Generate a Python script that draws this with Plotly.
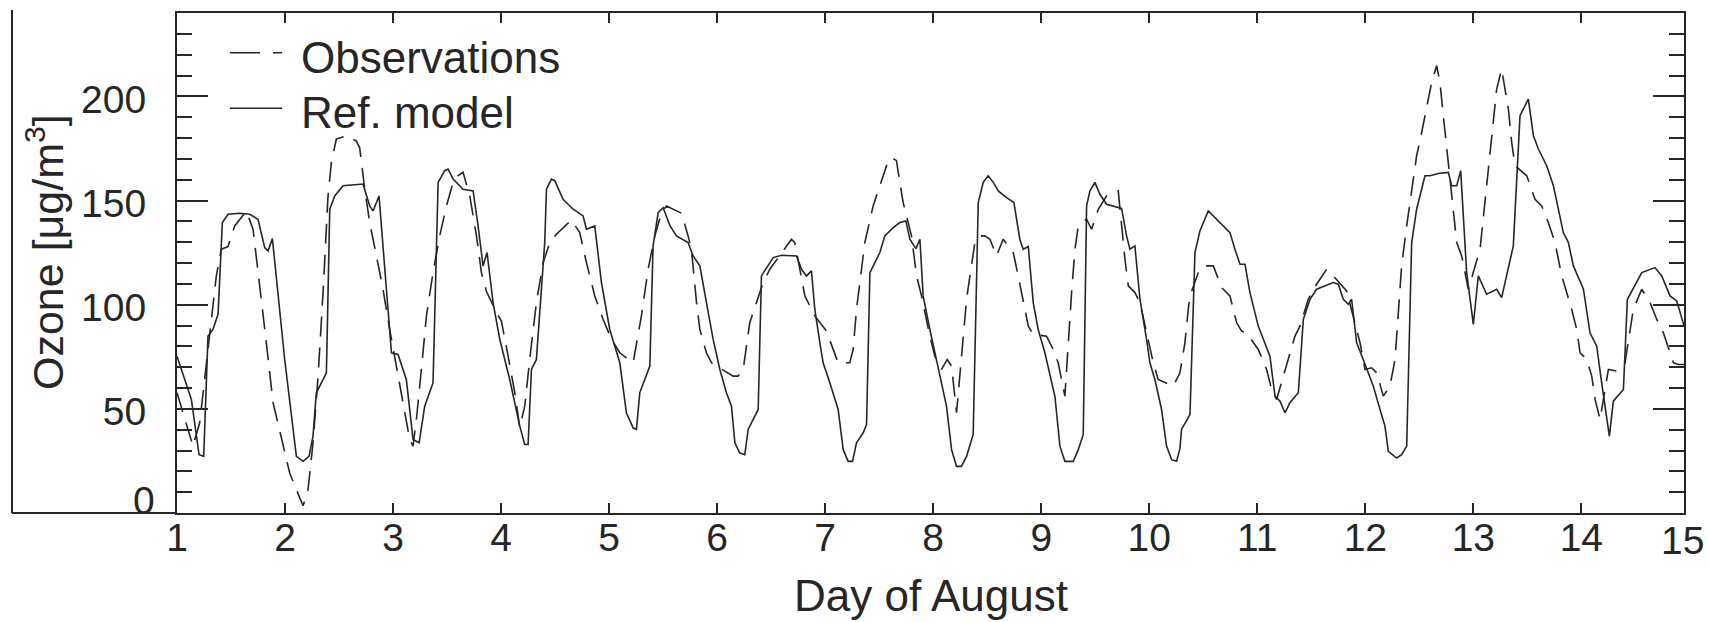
import plotly.graph_objects as go

# Ozone, 1-15 August: observations (dashed) and reference model (solid)
obs_day = [1.000, 1.148, 1.210, 1.287, 1.364, 1.410, 1.472, 1.534, 1.642, 1.704, 1.765, 1.827, 1.889, 1.966,
           2.043, 2.105, 2.167, 2.213, 2.259, 2.306, 2.352, 2.398, 2.429, 2.475, 2.568, 2.660, 2.691, 2.738,
           2.784, 2.846, 2.907, 2.969, 3.031, 3.093, 3.154, 3.185, 3.216, 3.262, 3.309, 3.370, 3.432, 3.494,
           3.556, 3.602, 3.648, 3.710, 3.772, 3.818, 3.864, 3.957, 4.003, 4.065, 4.127, 4.173, 4.219, 4.265,
           4.327, 4.389, 4.451, 4.512, 4.590, 4.651, 4.728, 4.790, 4.867, 4.944, 5.022, 5.099, 5.160, 5.222,
           5.299, 5.361, 5.423, 5.485, 5.531, 5.593, 5.670, 5.731, 5.762, 5.809, 5.840, 5.901, 5.948, 5.994,
           6.148, 6.194, 6.241, 6.302, 6.364, 6.426, 6.488, 6.580, 6.688, 6.719, 6.765, 6.812, 6.904, 7.012,
           7.120, 7.228, 7.259, 7.290, 7.321, 7.367, 7.444, 7.506, 7.568, 7.614, 7.660, 7.691, 7.722, 7.799,
           7.846, 7.892, 7.969, 8.015, 8.077, 8.130, 8.170, 8.216, 8.247, 8.278, 8.309, 8.340, 8.386, 8.432,
           8.478, 8.525, 8.586, 8.648, 8.741, 8.787, 8.833, 8.880, 8.926, 9.049, 9.111, 9.157, 9.219, 9.250,
           9.281, 9.312, 9.343, 9.420, 9.466, 9.528, 9.605, 9.713, 9.744, 9.775, 9.806, 9.867, 9.914, 9.960,
           10.037, 10.083, 10.222, 10.284, 10.330, 10.361, 10.377, 10.454, 10.500, 10.593, 10.670, 10.747,
           10.809, 10.855, 10.901, 11.009, 11.086, 11.133, 11.179, 11.241, 11.302, 11.349, 11.395, 11.472,
           11.549, 11.642, 11.704, 11.827, 11.951, 11.997, 12.059, 12.105, 12.167, 12.228, 12.275, 12.306,
           12.336, 12.383, 12.429, 12.475, 12.522, 12.568, 12.614, 12.660, 12.691, 12.722, 12.753, 12.784,
           12.815, 12.846, 12.892, 12.923, 12.954, 13.062, 13.093, 13.123, 13.154, 13.185, 13.216, 13.262,
           13.293, 13.324, 13.355, 13.386, 13.494, 13.571, 13.633, 13.694, 13.756, 13.818, 13.864, 13.910,
           13.957, 13.988, 14.049, 14.096, 14.127, 14.173, 14.250, 14.327, 14.404, 14.435, 14.481, 14.559,
           14.636, 14.698, 14.759, 14.790, 14.852, 14.898, 14.951]
obs_ozone = [57.7, 32.1, 43.3, 78.5, 113.8, 126.6, 127.9, 137.8, 145.0, 136.2, 110.6, 81.7, 53.0, 35.3,
             19.2, 11.2, 3.5, 11.2, 33.7, 65.7, 105.8, 152.2, 168.3, 179.5, 181.1, 178.5, 175.3, 155.4,
             139.4, 123.4, 107.4, 88.1, 70.5, 52.9, 35.3, 32.1, 44.9, 68.9, 94.6, 115.4, 133.0, 147.4,
             158.7, 161.9, 163.5, 152.2, 133.0, 115.4, 106.4, 96.2, 92.1, 75.3, 57.7, 41.0, 51.3, 73.7,
             101.0, 120.2, 129.8, 133.8, 137.8, 140.7, 134.6, 120.2, 104.2, 93.0, 83.3, 76.9, 74.5, 72.1,
             94.6, 117.0, 133.0, 144.2, 147.4, 145.8, 143.9, 133.0, 126.6, 101.0, 88.1, 76.9, 72.1, 70.5,
             65.7, 65.7, 68.9, 91.3, 101.0, 110.6, 117.0, 123.4, 131.4, 129.8, 116.8, 104.2, 94.6, 87.3,
             72.1, 72.1, 78.5, 97.8, 110.6, 129.8, 147.4, 157.1, 166.7, 170.7, 169.1, 158.7, 149.0, 133.0,
             113.8, 104.2, 84.9, 75.3, 68.9, 73.7, 70.5, 48.1, 65.7, 81.7, 102.6, 113.8, 129.8, 133.0,
             133.0, 131.4, 123.4, 131.4, 125.0, 113.8, 101.0, 89.7, 85.7, 84.9, 78.5, 72.1, 56.1, 81.7,
             105.8, 126.6, 137.8, 141.0, 136.2, 145.8, 152.2, 154.6, 137.8, 121.8, 109.0, 105.8, 101.0, 89.7,
             72.1, 64.1, 60.9, 67.3, 81.7, 97.8, 104.2, 115.4, 118.6, 118.6, 108.2, 104.2,
             91.3, 87.3, 86.5, 78.5, 68.9, 59.3, 54.5, 65.7, 76.9, 84.9, 89.7, 102.6,
             109.8, 117.0, 113.8, 106.6, 81.7, 68.9, 69.7, 67.3, 56.1, 60.9, 73.7, 97.8,
             118.6, 137.8, 155.4, 171.5, 182.7, 195.5, 206.7, 214.7, 206.7, 190.7, 174.7, 158.7,
             142.6, 129.8, 123.4, 115.4, 107.4, 126.6, 142.6, 158.7, 174.7, 190.7, 203.5, 213.1,
             203.5, 193.9, 177.9, 166.7, 161.9, 150.6, 147.4, 139.4, 129.8, 113.8, 105.8, 97.8,
             88.1, 76.9, 73.7, 65.7, 54.5, 44.9, 68.9, 68.1, 72.1, 81.7, 97.8, 107.4,
             101.0, 92.9, 86.5, 81.7, 72.1, 71.3, 71.3]

model_day = [1.000, 1.133, 1.204, 1.247, 1.287, 1.333, 1.380, 1.420, 1.472, 1.580, 1.673, 1.750, 1.812, 1.843,
             1.883, 1.997, 2.105, 2.167, 2.222, 2.259, 2.290, 2.352, 2.383, 2.414, 2.460, 2.537, 2.722, 2.784,
             2.815, 2.870, 2.985, 3.046, 3.123, 3.185, 3.241, 3.293, 3.370, 3.417, 3.478, 3.509, 3.556, 3.648,
             3.741, 3.787, 3.833, 3.870, 3.926, 3.988, 4.080, 4.173, 4.219, 4.250, 4.281, 4.327, 4.404, 4.420,
             4.466, 4.497, 4.574, 4.667, 4.759, 4.790, 4.867, 4.929, 5.006, 5.099, 5.160, 5.222, 5.253, 5.284,
             5.377, 5.407, 5.454, 5.500, 5.562, 5.623, 5.731, 5.778, 5.840, 5.901, 5.963, 6.025, 6.086, 6.133,
             6.164, 6.210, 6.256, 6.287, 6.333, 6.380, 6.410, 6.457, 6.519, 6.596, 6.735, 6.781, 6.827, 6.873,
             6.904, 6.951, 6.981, 7.043, 7.120, 7.167, 7.213, 7.253, 7.290, 7.352, 7.383, 7.414, 7.460, 7.506,
             7.552, 7.630, 7.691, 7.747, 7.784, 7.840, 7.877, 7.907, 7.969, 8.031, 8.123, 8.170, 8.216, 8.262,
             8.309, 8.370, 8.417, 8.463, 8.509, 8.556, 8.602, 8.679, 8.747, 8.802, 8.833, 8.880, 8.926, 8.972,
             9.034, 9.127, 9.173, 9.219, 9.296, 9.343, 9.389, 9.420, 9.451, 9.497, 9.543, 9.605, 9.744, 9.790,
             9.821, 9.867, 9.914, 9.975, 10.006, 10.052, 10.114, 10.160, 10.207, 10.253, 10.284, 10.299,
             10.377, 10.423, 10.469, 10.546, 10.623, 10.747, 10.793, 10.840, 10.886, 10.932, 11.009, 11.117,
             11.164, 11.210, 11.256, 11.302, 11.380, 11.426, 11.488, 11.549, 11.704, 11.750, 11.796, 11.843,
             11.873, 11.920, 11.981, 12.074, 12.136, 12.182, 12.213, 12.290, 12.336, 12.383, 12.429, 12.475,
             12.552, 12.599, 12.676, 12.769, 12.799, 12.846, 12.883, 12.938, 13.000, 13.046, 13.123, 13.216,
             13.262, 13.370, 13.432, 13.509, 13.556, 13.602, 13.679, 13.741, 13.833, 13.880, 13.926, 14.019,
             14.080, 14.142, 14.188, 14.259, 14.296, 14.389, 14.426, 14.481, 14.559, 14.682, 14.744, 14.821,
             14.883, 14.951]
model_ozone = [75.3, 54.5, 28.0, 27.2, 84.9, 88.1, 95.4, 139.4, 143.4, 143.9, 143.4, 141.0, 127.4, 125.8,
               131.7, 73.7, 27.2, 24.8, 27.2, 36.9, 57.7, 64.1, 67.3, 145.8, 152.2, 157.1, 157.9, 147.4,
               145.0, 152.2, 76.9, 76.1, 64.1, 35.3, 33.7, 51.3, 62.5, 158.7, 164.3, 165.1, 160.3, 155.4,
               154.6, 137.8, 118.6, 125.0, 101.0, 83.3, 64.1, 41.7, 32.9, 32.9, 68.9, 73.7, 129.8, 155.4,
               160.3, 159.5, 150.6, 145.8, 142.6, 136.2, 137.8, 110.6, 88.1, 72.1, 48.1, 40.9, 40.1, 57.7,
               70.5, 128.2, 144.2, 146.5, 138.0, 133.0, 129.8, 123.4, 118.6, 101.0, 83.3, 68.9, 57.7, 51.3,
               33.7, 28.8, 28.0, 40.1, 44.9, 49.7, 113.8, 117.8, 122.6, 123.7, 123.4, 117.0, 113.8, 116.2,
               97.8, 81.7, 72.1, 62.5, 49.7, 30.4, 24.8, 24.8, 33.7, 38.5, 42.5, 115.4, 120.2, 125.0,
               133.0, 137.0, 139.4, 140.2, 131.4, 126.9, 131.4, 104.2, 88.1, 73.7, 51.3, 30.4, 22.4, 22.4,
               27.2, 37.7, 149.0, 158.7, 161.9, 158.7, 154.6, 151.4, 149.0, 131.4, 126.6, 127.9, 101.0, 88.1,
               76.9, 55.9, 32.1, 24.8, 24.8, 30.4, 37.7, 147.4, 154.6, 158.7, 153.0, 148.2, 146.2, 133.0,
               126.6, 128.2, 102.6, 83.3, 72.1, 64.1, 49.7, 32.1, 25.6, 24.8, 31.0, 40.1,
               47.3, 125.0, 135.4, 145.0, 141.0, 134.6, 126.6, 119.4, 119.4, 105.8, 89.7, 75.3,
               56.1, 53.7, 48.1, 52.9, 57.7, 92.9, 102.6, 107.4, 110.6, 109.8, 102.6, 100.2,
               102.6, 81.7, 73.7, 60.9, 49.7, 41.7, 29.6, 26.4, 28.0, 32.1, 129.8, 145.8,
               161.9, 161.9, 163.0, 163.5, 157.1, 157.1, 164.3, 115.4, 90.5, 113.8, 105.0, 107.4,
               103.4, 128.2, 190.7, 198.7, 181.1, 174.7, 166.7, 157.1, 134.6, 129.8, 118.6, 107.4,
               86.5, 80.1, 62.5, 36.9, 53.7, 59.3, 102.6, 108.2, 115.4, 117.8, 113.8, 104.2,
               101.8, 89.7]

day_ticks = list(range(1, 15))
ozone_ticks = [50, 100, 150, 200]

INK = "#262626"
FONT = "Liberation Sans, Arial, Helvetica, sans-serif"

W, H = 1709, 622
L, R, T, B = 177, 25, 13, 109
PW, PH = W - L - R, H - T - B


def px_x(x):
    # page pixel -> paper x
    return (x - L) / PW


def px_y(y):
    # page pixel -> paper y
    return (H - B - y) / PH


fig = go.Figure()
fig.add_trace(go.Scatter(x=obs_day, y=obs_ozone, mode="lines", name="Observations",
                         line=dict(color=INK, width=1.6, dash="20px,11px")))
fig.add_trace(go.Scatter(x=model_day, y=model_ozone, mode="lines", name="Ref. model",
                         line=dict(color=INK, width=1.6)))

fig.update_layout(
    width=W, height=H,
    margin=dict(l=L, r=R, t=T, b=B),
    paper_bgcolor="white", plot_bgcolor="white",
    showlegend=False,
    font=dict(family=FONT, color=INK),
)

fig.update_xaxes(
    range=[1, 14.95], tickmode="array", tickvals=day_ticks,
    ticks="inside", ticklen=10, tickwidth=2, tickcolor=INK,
    showline=True, linewidth=2, linecolor=INK, mirror="ticks",
    showgrid=False, zeroline=False,
    tickfont=dict(size=39, color=INK), ticklabelstandoff=-11,
)
fig.update_yaxes(
    range=[0, 240], tickmode="array", tickvals=ozone_ticks,
    ticks="inside", ticklen=31, tickwidth=2, tickcolor=INK,
    minor=dict(tickmode="linear", tick0=0, dtick=10, ticks="inside", ticklen=15,
               tickwidth=2, tickcolor=INK, showgrid=False),
    showline=True, linewidth=2, linecolor=INK, mirror="ticks",
    showgrid=False, zeroline=False,
    tickfont=dict(size=39, color=INK), ticklabelstandoff=21, ticklabelshift=3,
)

# "0" and "15" labels sit at the very corners of the frame
fig.add_annotation(x=px_x(157), y=px_y(500), xref="paper", yref="paper", text="0",
                   showarrow=False, xanchor="right", yanchor="middle",
                   font=dict(size=39, color=INK))
fig.add_annotation(x=px_x(1682), y=px_y(540), xref="paper", yref="paper", text="15",
                   showarrow=False, xanchor="center", yanchor="middle",
                   font=dict(size=39, color=INK))

# axis titles
fig.add_annotation(x=0.5, y=px_y(595), xref="paper", yref="paper", text="Day of August",
                   showarrow=False, xanchor="center", yanchor="middle",
                   font=dict(size=44, color=INK))
fig.add_annotation(x=px_x(45), y=px_y(252), xref="paper", yref="paper",
                   text="Ozone [μg/m<sup>3</sup>]", textangle=-90,
                   showarrow=False, xanchor="center", yanchor="middle",
                   font=dict(size=43, color=INK))

# legend, drawn by hand so the line samples match the original length
fig.add_shape(type="line", xref="paper", yref="paper",
              x0=px_x(230), x1=px_x(282), y0=px_y(52.7), y1=px_y(52.7),
              line=dict(color=INK, width=1.6, dash="30px,13px"))
fig.add_shape(type="line", xref="paper", yref="paper",
              x0=px_x(230), x1=px_x(282), y0=px_y(108.3), y1=px_y(108.3),
              line=dict(color=INK, width=1.6))
fig.add_annotation(x=px_x(299), y=px_y(58), xref="paper", yref="paper", text="Observations",
                   showarrow=False, xanchor="left", yanchor="middle",
                   font=dict(size=44, color=INK))
fig.add_annotation(x=px_x(299), y=px_y(112.5), xref="paper", yref="paper", text="Ref. model",
                   showarrow=False, xanchor="left", yanchor="middle",
                   font=dict(size=44, color=INK))

# outer frame edge left of the axes (part of the original figure)
fig.add_shape(type="line", xref="paper", yref="paper",
              x0=px_x(12), x1=px_x(12), y0=px_y(10), y1=0,
              line=dict(color=INK, width=2))
fig.add_shape(type="line", xref="paper", yref="paper",
              x0=px_x(12), x1=0, y0=0, y1=0,
              line=dict(color=INK, width=2))

# drop the default body margin so the figure fills the window exactly
fig.write_html("out.html", config={"displayModeBar": False},
               post_script="document.body.style.margin = '0px';")
